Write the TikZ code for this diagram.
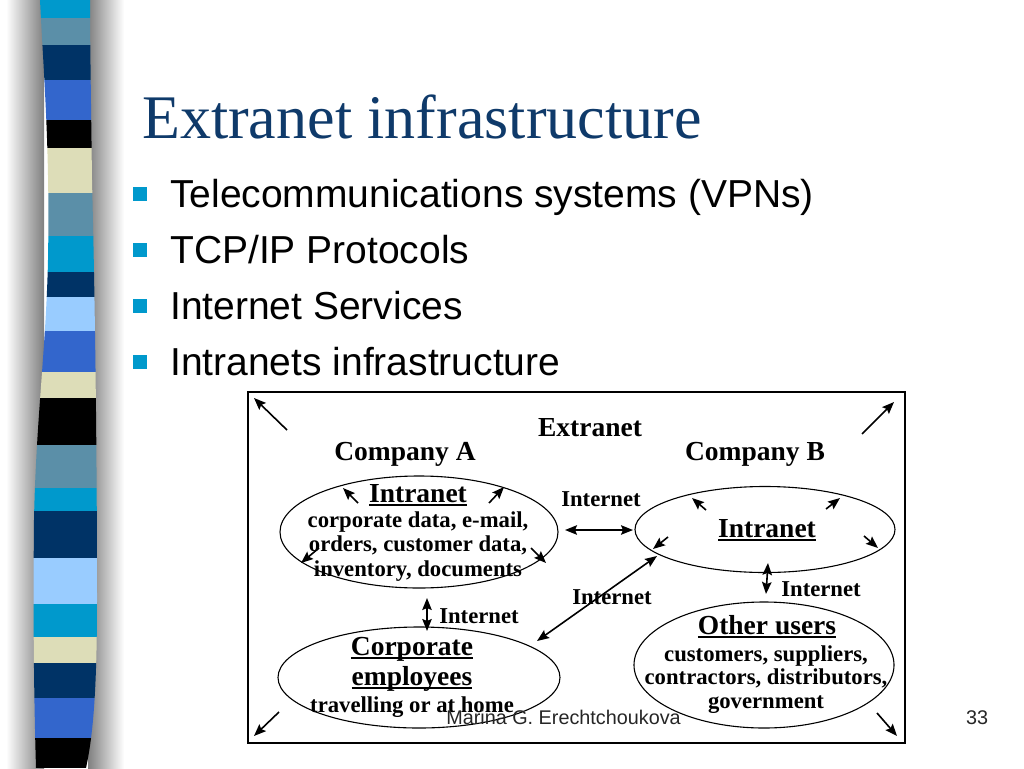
\documentclass[tikz,border=0pt]{standalone}
\usepackage{fontspec}
\setmainfont{Liberation Serif}
\newfontfamily\arialf{Liberation Sans}
\usetikzlibrary{shapes.geometric,arrows.meta}
\definecolor{cyanS}{HTML}{0099CC}
\definecolor{steelS}{HTML}{5B8FA8}
\definecolor{navyS}{HTML}{003366}
\definecolor{royalS}{HTML}{3366CC}
\definecolor{creamS}{HTML}{DDDDB8}
\definecolor{lightS}{HTML}{99CCFF}
\definecolor{titleC}{HTML}{0F3A6A}
\newcommand\myul[1]{\setbox0\hbox{#1}\rlap{\rule[-3.5pt]{\wd0}{1.8pt}}\box0}
\tikzset{
  ell/.style={draw, line width=1.1pt, ellipse, inner sep=0pt},
  big/.style={font=\bfseries\fontsize{27.5}{30}\selectfont, inner sep=0pt, anchor=base},
  small/.style={font=\bfseries\fontsize{22.7}{24.5}\selectfont, inner sep=0pt, align=center},
  bullettext/.style={font=\arialf\fontsize{39}{39}\selectfont, anchor=base west, inner sep=0pt},
  bulletbox/.style={fill=cyanS, minimum size=14pt, inner sep=0pt},
  arr/.style={line width=1.6pt, -{Stealth[length=12pt,width=9.5pt,inset=2pt]}},
  dbl/.style={line width=1.6pt, {Stealth[length=12pt,width=9.5pt,inset=2pt]}-{Stealth[length=12pt,width=9.5pt,inset=2pt]}},
  foot/.style={font=\arialf\fontsize{19.8}{20}\selectfont, anchor=base, inner sep=0pt, text=black!85}
}
\begin{document}
\begin{tikzpicture}[x=1pt,y=-1pt]
\useasboundingbox (0,0) rectangle (1024,768);
\fill[white] (0,0) rectangle (1024,768);
% stripe shadow
\shade[left color=white, right color=black!50] (6,0) rectangle (44,768);
\shade[left color=black!50, right color=white] (88,0) rectangle (124,768);
% stripe
\begin{scope}
\clip (40,0) .. controls (44,80) and (50,150) .. (48,260) .. controls (46,350) and (36,420) .. (34,520) .. controls (33,620) and (34,700) .. (36,768) -- (86,768) .. controls (92,740) and (97,700) .. (97,600) .. controls (97,450) and (95,300) .. (92,180) .. controls (91,100) and (90,40) .. (90,0) -- cycle;
\foreach \a/\b/\c in {0/18/cyanS,18/45/steelS,45/80/navyS,80/120/royalS,120/148/black,148/193/creamS,193/236/steelS,236/272/cyanS,272/297/navyS,297/331/lightS,331/372/royalS,372/398/creamS,398/445/black,445/488/steelS,488/511/cyanS,511/558/navyS,558/604/lightS,604/637/cyanS,637/663/creamS,663/698/navyS,698/738/royalS,738/768/black}
  \fill[\c] (0,\a) rectangle (130,\b);
\end{scope}
% title
\node[anchor=base west, inner sep=0pt, text=titleC, font=\fontsize{62}{62}\selectfont] (title) at (142,138) {Extranet infrastructure};
% bullets
\node[bulletbox] (b1) at (140,194) {};
\node[bulletbox] (b2) at (140,250) {};
\node[bulletbox] (b3) at (140,306) {};
\node[bulletbox] (b4) at (140,362) {};
\node[bullettext] (t1) at (170,207) {Telecommunications systems (VPNs)};
\node[bullettext] (t2) at (170,263) {TCP/IP Protocols};
\node[bullettext] (t3) at (170,319) {Internet Services};
\node[bullettext] (t4) at (170,375) {Intranets infrastructure};
% diagram frame
\node[draw, line width=1.3pt, minimum width=657pt, minimum height=351pt, inner sep=0pt] (frame) at (576.5,567.5) {};
% ellipses
\node[ell, minimum width=278pt, minimum height=112pt] (ellA) at (419,532) {};
\node[ell, minimum width=260pt, minimum height=86pt] (ellB) at (765,529.5) {};
\node[ell, minimum width=282pt, minimum height=101pt] (ellC) at (419,677.5) {};
\node[ell, minimum width=260pt, minimum height=126pt] (ellD) at (764,665) {};
% headings
\node[big] (ext) at (590,436) {Extranet};
\node[big] (compA) at (405,460) {Company A};
\node[big] (compB) at (755,460) {Company B};
% ellipse A text
\node[big] (intraA) at (418,502) {\myul{Intranet}};
\node[small, anchor=base] (dA1) at (418,527) {corporate data, e-mail,};
\node[small, anchor=base] (dA2) at (418,551.5) {orders, customer data,};
\node[small, anchor=base] (dA3) at (418,576) {inventory, documents};
% ellipse B text
\node[big] (intraB) at (767,537) {\myul{Intranet}};
% ellipse C text
\node[big] (corp1) at (412,655) {\myul{Corporate}};
\node[big] (corp2) at (412,685) {\myul{employees}};
\node[small, anchor=base] (corp3) at (412,712) {travelling or at home};
% ellipse D text
\node[big] (oth) at (767,634) {\myul{Other users}};
\node[small, anchor=base] (oth1) at (766,661) {customers, suppliers,};
\node[small, anchor=base] (oth2) at (766,684.5) {contractors, distributors,};
\node[small, anchor=base] (oth3) at (766,708) {government};
% Internet labels
\node[small, anchor=base] (netAB) at (601,506) {Internet};
\node[small, anchor=base] (netAC) at (479,623) {Internet};
\node[small, anchor=base] (netCB) at (612,604) {Internet};
\node[small, anchor=base] (netBD) at (821,596) {Internet};
% connector end points
\coordinate (hAB1) at (565,530); \coordinate (hAB2) at (633,530);
\coordinate (vAC1) at (427,598); \coordinate (vAC2) at (427,631);
\coordinate (dCB1) at (537,641); \coordinate (dCB2) at (657,556);
\coordinate (vBD1) at (768,563); \coordinate (vBD2) at (766,594);
\draw[dbl] (hAB1) -- (hAB2);
\draw[dbl] (vAC1) -- (vAC2);
\draw[dbl] (dCB1) -- (dCB2);
\draw[dbl] (vBD1) -- (vBD2);
% small arrows in ellipse A
\coordinate (a1s) at (358,503); \coordinate (a1e) at (343,488);
\coordinate (a2s) at (489,503); \coordinate (a2e) at (504,487);
\coordinate (a3s) at (319,548); \coordinate (a3e) at (301,563);
\coordinate (a4s) at (531,548); \coordinate (a4e) at (546,563);
\draw[arr] (a1s) -- (a1e);
\draw[arr] (a2s) -- (a2e);
\draw[arr] (a3s) -- (a3e);
\draw[arr] (a4s) -- (a4e);
% small arrows in ellipse B
\coordinate (b1s) at (706,510); \coordinate (b1e) at (692,498);
\coordinate (b2s) at (826,509); \coordinate (b2e) at (840,498);
\coordinate (b3s) at (864,536); \coordinate (b3e) at (878,548);
\coordinate (b4s) at (668,537); \coordinate (b4e) at (653,549);
\draw[arr] (b1s) -- (b1e);
\draw[arr] (b2s) -- (b2e);
\draw[arr] (b3s) -- (b3e);
\draw[arr] (b4s) -- (b4e);
% corner arrows
\coordinate (c1s) at (287,430); \coordinate (c1e) at (254,398);
\coordinate (c2s) at (862,434); \coordinate (c2e) at (894,402);
\coordinate (c3s) at (279,712); \coordinate (c3e) at (254,736);
\coordinate (c4s) at (877,713); \coordinate (c4e) at (897,736);
\draw[arr] (c1s) -- (c1e);
\draw[arr] (c2s) -- (c2e);
\draw[arr] (c3s) -- (c3e);
\draw[arr] (c4s) -- (c4e);
% footer
\node[foot] (author) at (563.5,724) {Marina G. Erechtchoukova};
\node[foot] (page) at (977,724) {33};
\end{tikzpicture}
\end{document}
